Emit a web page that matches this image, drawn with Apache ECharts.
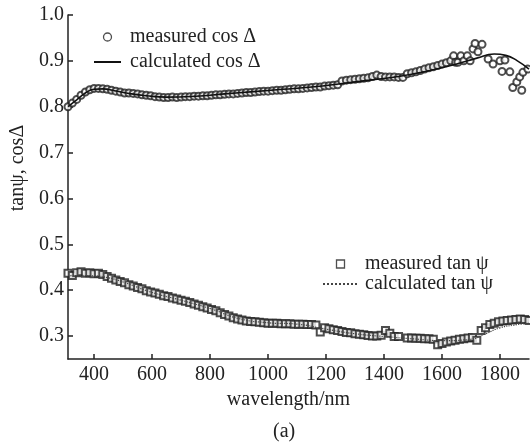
<!DOCTYPE html>
<html>
<head>
<meta charset="utf-8">
<script src="https://cdn.jsdelivr.net/npm/echarts@6/dist/echarts.min.js"></script>
<style>
  html, body { margin: 0; padding: 0; background: #fff; }
  #chart { width: 530px; height: 444px; }
</style>
</head>
<body>
<div id="chart"></div>
<script>
// measured cos Delta (circles)
const measCosX = [310, 325, 340, 355, 370, 385, 400, 415, 430, 445, 460, 475, 490, 505, 520, 535, 550, 565, 580, 595,
  610, 625, 640, 655, 670, 685, 700, 715, 730, 745, 760, 775, 790, 805, 820, 835, 850, 865, 880, 895,
  910, 925, 940, 955, 970, 985, 1000, 1015, 1030, 1045, 1060, 1075, 1090, 1105, 1120, 1135, 1150, 1165, 1180, 1195,
  1210, 1225, 1240, 1255, 1270, 1285, 1300, 1315, 1330, 1345, 1360, 1375, 1390, 1405, 1420, 1435, 1450, 1465, 1480, 1495,
  1510, 1525, 1540, 1555, 1570, 1585, 1600, 1615, 1630, 1640, 1647, 1655, 1665, 1675, 1687, 1697, 1707, 1714, 1724, 1738,
  1759, 1776, 1800, 1807, 1817, 1834, 1844, 1858, 1868, 1875, 1879, 1896];
const measCosY = [0.800, 0.808, 0.816, 0.825, 0.832, 0.837, 0.840, 0.840, 0.839, 0.838, 0.836, 0.834, 0.832, 0.830, 0.830, 0.829, 0.828, 0.826, 0.825, 0.824,
  0.822, 0.821, 0.820, 0.820, 0.821, 0.820, 0.821, 0.822, 0.822, 0.823, 0.823, 0.824, 0.824, 0.825, 0.826, 0.826, 0.827, 0.828, 0.828, 0.829,
  0.830, 0.831, 0.831, 0.832, 0.833, 0.834, 0.834, 0.835, 0.836, 0.836, 0.837, 0.838, 0.839, 0.839, 0.840, 0.841, 0.842, 0.843, 0.843, 0.845,
  0.846, 0.847, 0.848, 0.856, 0.858, 0.859, 0.860, 0.861, 0.862, 0.863, 0.866, 0.869, 0.866, 0.865, 0.865, 0.865, 0.864, 0.864, 0.872, 0.874,
  0.876, 0.879, 0.882, 0.885, 0.887, 0.890, 0.893, 0.896, 0.900, 0.911, 0.897, 0.897, 0.911, 0.900, 0.911, 0.900, 0.926, 0.938, 0.920, 0.936,
  0.904, 0.893, 0.900, 0.877, 0.902, 0.876, 0.842, 0.854, 0.865, 0.836, 0.875, 0.882];

// calculated cos Delta (solid line)
const calcCosX = [310, 340, 370, 400, 430, 470, 520, 580, 650, 750, 850, 950, 1050, 1150, 1250, 1350, 1450, 1550, 1650, 1720, 1780, 1820, 1860, 1900];
const calcCosY = [0.800, 0.815, 0.830, 0.838, 0.839, 0.835, 0.829, 0.824, 0.821, 0.823, 0.828, 0.833, 0.838, 0.843, 0.850, 0.858, 0.866, 0.878, 0.893, 0.906, 0.915, 0.912, 0.900, 0.882];

// measured tan psi (squares)
const measTanX = [310, 325, 340, 355, 370, 385, 400, 415, 430, 445, 460, 475, 490, 505, 520, 535, 550, 565, 580, 595,
  610, 625, 640, 655, 670, 685, 700, 715, 730, 745, 760, 775, 790, 805, 820, 835, 850, 865, 880, 895,
  910, 925, 940, 955, 970, 985, 1000, 1015, 1030, 1045, 1060, 1075, 1090, 1105, 1120, 1135, 1150, 1165, 1180, 1195,
  1210, 1225, 1240, 1255, 1270, 1285, 1300, 1315, 1330, 1345, 1360, 1375, 1390, 1405, 1420, 1435, 1450, 1480, 1495, 1510,
  1525, 1540, 1555, 1570, 1585, 1600, 1615, 1630, 1645, 1660, 1675, 1690, 1705, 1720, 1735, 1750, 1765, 1780, 1795, 1810,
  1825, 1840, 1855, 1870, 1885, 1900];
const measTanY = [0.437, 0.432, 0.438, 0.440, 0.437, 0.438, 0.436, 0.437, 0.434, 0.430, 0.426, 0.422, 0.419, 0.416, 0.412, 0.409, 0.406, 0.403, 0.399, 0.396,
  0.394, 0.391, 0.388, 0.386, 0.383, 0.381, 0.378, 0.376, 0.373, 0.370, 0.367, 0.364, 0.361, 0.358, 0.355, 0.351, 0.347, 0.344, 0.340, 0.337,
  0.335, 0.333, 0.332, 0.331, 0.330, 0.329, 0.328, 0.328, 0.328, 0.327, 0.327, 0.327, 0.326, 0.326, 0.326, 0.325, 0.325, 0.324, 0.309, 0.318,
  0.316, 0.314, 0.312, 0.310, 0.308, 0.307, 0.305, 0.304, 0.303, 0.301, 0.300, 0.300, 0.302, 0.312, 0.306, 0.299, 0.299, 0.296, 0.296, 0.295,
  0.295, 0.294, 0.294, 0.293, 0.281, 0.284, 0.287, 0.289, 0.291, 0.293, 0.294, 0.296, 0.297, 0.291, 0.312, 0.318, 0.325, 0.328, 0.331, 0.333,
  0.334, 0.335, 0.336, 0.337, 0.336, 0.334];

// calculated tan psi (dotted line)
const calcTanX = [310, 400, 450, 500, 600, 700, 800, 900, 1000, 1100, 1200, 1300, 1400, 1500, 1600, 1700, 1750, 1800, 1850, 1900];
const calcTanY = [0.432, 0.431, 0.427, 0.418, 0.395, 0.378, 0.360, 0.338, 0.329, 0.326, 0.315, 0.305, 0.299, 0.294, 0.290, 0.293, 0.305, 0.318, 0.324, 0.328];

const xTicks = [400, 600, 800, 1000, 1200, 1400, 1600, 1800];
const yTicks = [0.3, 0.4, 0.5, 0.6, 0.7, 0.8, 0.9, 1.0];

const zip = (xs, ys) => xs.map((x, i) => [x, ys[i]]);
const FONT = 'Liberation Serif';
const INK = '#222';
const textStyle = { fontFamily: FONT, fontSize: 20, color: INK };
const squareIcon = 'path://M0,0L10,0L10,10L0,10Z';
const circleIcon = 'path://M10,5A5,5,0,1,1,0,5A5,5,0,1,1,10,5Z';
const hollow = { color: '#fff', borderColor: INK, borderWidth: 1.3 };
const noSymbol = { opacity: 0 };

const chart = echarts.init(document.getElementById('chart'));
chart.setOption({
  animation: false,
  title: {
    text: '(a)', left: 268, top: 417,
    textStyle: { ...textStyle, fontWeight: 'normal' }
  },
  grid: { left: 65, right: 1, top: 15, bottom: 85 },
  legend: [{
    data: [
      { name: 'measured cos Δ', icon: circleIcon, itemStyle: hollow },
      { name: 'calculated cos Δ', itemStyle: noSymbol }
    ],
    orient: 'vertical', left: 88, top: 22,
    itemWidth: 27, itemHeight: 8, itemGap: 5,
    textStyle: { ...textStyle, padding: [0, 0, 0, 4] }
  }, {
    data: [
      { name: 'measured tan ψ', icon: squareIcon, itemStyle: hollow },
      { name: 'calculated tan ψ', itemStyle: noSymbol }
    ],
    orient: 'vertical', left: 317, top: 249,
    itemWidth: 35, itemHeight: 8, itemGap: 0,
    textStyle: { ...textStyle, padding: [0, 0, 0, 2] }
  }],
  xAxis: {
    type: 'value', min: 310, max: 1900,
    name: 'wavelength/nm', nameLocation: 'middle', nameGap: 28,
    nameTextStyle: { ...textStyle, padding: [0, 20, 0, 0] },
    axisLine: { lineStyle: { color: INK, width: 1.5 } },
    axisTick: { inside: true, length: 5, customValues: xTicks, lineStyle: { color: INK, width: 1.5 } },
    axisLabel: { ...textStyle, customValues: xTicks, formatter: v => String(v), margin: 6 },
    splitLine: { show: false }
  },
  yAxis: {
    type: 'value', min: 0.25, max: 1.0,
    name: 'tanψ, cosΔ', nameLocation: 'middle', nameGap: 40,
    nameTextStyle: { ...textStyle, padding: [0, 0, 0, 38] },
    axisLine: { show: true, lineStyle: { color: INK, width: 1.5 } },
    axisTick: { show: true, inside: true, length: 5, customValues: yTicks, lineStyle: { color: INK, width: 1.5 } },
    axisLabel: { ...textStyle, customValues: yTicks, formatter: v => v.toFixed(1), margin: 4 },
    splitLine: { show: false }
  },
  series: [{
    name: 'measured cos Δ', type: 'scatter',
    symbol: 'emptyCircle', symbolSize: 7,
    itemStyle: { color: INK, borderWidth: 1.2 },
    data: zip(measCosX, measCosY), z: 2
  }, {
    name: 'calculated cos Δ', type: 'line', smooth: true, symbol: 'none',
    lineStyle: { color: '#111', width: 1.6 },
    itemStyle: { color: '#111' },
    data: zip(calcCosX, calcCosY), z: 3
  }, {
    name: 'measured tan ψ', type: 'scatter',
    symbol: 'emptyRect', symbolSize: 7,
    itemStyle: { color: INK, borderWidth: 1.2 },
    data: zip(measTanX, measTanY), z: 2
  }, {
    name: 'calculated tan ψ', type: 'line', smooth: true, symbol: 'none',
    lineStyle: { color: '#444', width: 1.2, type: 'dotted' },
    itemStyle: { color: '#444' },
    data: zip(calcTanX, calcTanY), z: 3
  }]
});
</script>
</body>
</html>
